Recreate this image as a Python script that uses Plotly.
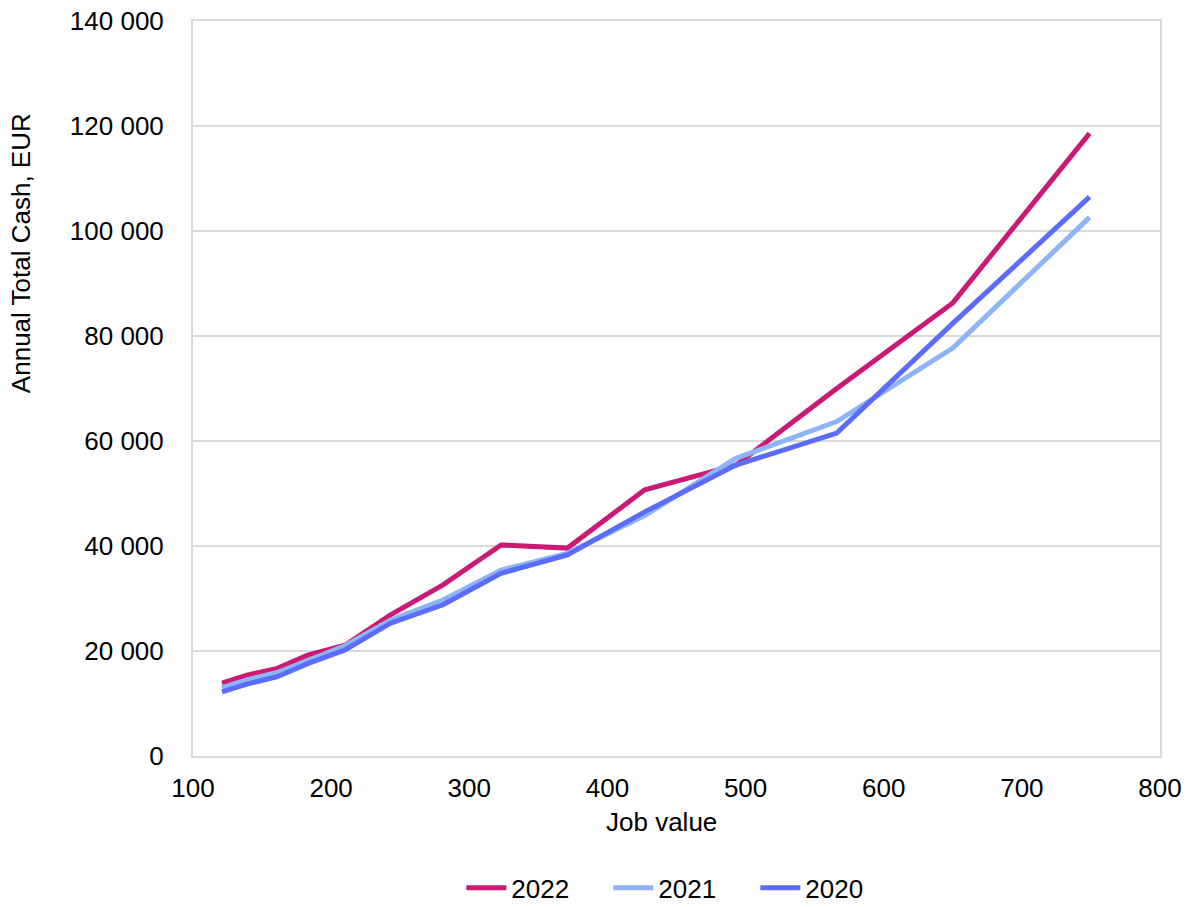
import plotly.graph_objects as go

# Job value grades (x) and annual total cash (EUR) per survey year
job_value = [121, 139, 161, 183, 210, 243, 281, 323, 371, 427, 493, 566, 650, 749]
cash_2022 = [13900, 15400, 16700, 19200, 21100, 26900, 32600, 40200, 39600, 50700, 55400, 70000, 86300, 118600]
cash_2021 = [13000, 14500, 15900, 18300, 21000, 25900, 29700, 35400, 38600, 45800, 56700, 63700, 77700, 102600]
cash_2020 = [12200, 13700, 15100, 17600, 20200, 25300, 28800, 34800, 38300, 46500, 55400, 61500, 82400, 106500]

series = [
    ("2022", cash_2022, "#CB1A74"),
    ("2021", cash_2021, "#8DB4F7"),
    ("2020", cash_2020, "#5A6CF9"),
]

FONT = "Arial, 'Liberation Sans', sans-serif"

fig = go.Figure()
for name, values, color in series:
    fig.add_trace(go.Scatter(
        x=job_value, y=values, name=name, mode="lines",
        line=dict(color=color, width=5),
    ))

fig.update_layout(
    width=1192, height=907,
    margin=dict(l=193, r=32, t=21, b=151, autoexpand=False),
    paper_bgcolor="white", plot_bgcolor="white",
    font=dict(family=FONT, size=26, color="#000000"),
    separators=". ",
    showlegend=True,
    legend=dict(
        orientation="h", xref="container", yref="container",
        x=0.572, xanchor="center", y=0.021, yanchor="middle",
        font=dict(size=26), itemwidth=40, entrywidth=92, entrywidthmode="pixels",
        traceorder="normal",
    ),
    xaxis=dict(
        range=[100, 800], dtick=100, tick0=100,
        showgrid=False, zeroline=False, automargin=False,
        showline=True, linecolor="#D9D9D9", linewidth=2, mirror=True,
        ticks="", ticklabelstandoff=8,
    ),
    yaxis=dict(
        range=[0, 140000], dtick=20000, tickformat=",d",
        showgrid=True, gridcolor="#D9D9D9", gridwidth=1.5,
        zeroline=False, automargin=False,
        showline=True, linecolor="#D9D9D9", linewidth=2, mirror=True,
        ticks="", ticklabelstandoff=22,
    ),
    annotations=[
        dict(text="Annual Total Cash, EUR", textangle=-90,
             xref="paper", yref="paper", x=-0.178, y=0.684,
             xanchor="center", yanchor="middle", showarrow=False,
             font=dict(size=26)),
        dict(text="Job value",
             xref="paper", yref="paper", x=0.484, y=-0.09,
             xanchor="center", yanchor="middle", showarrow=False,
             font=dict(size=26)),
    ],
)

fig.write_html("out.html")
